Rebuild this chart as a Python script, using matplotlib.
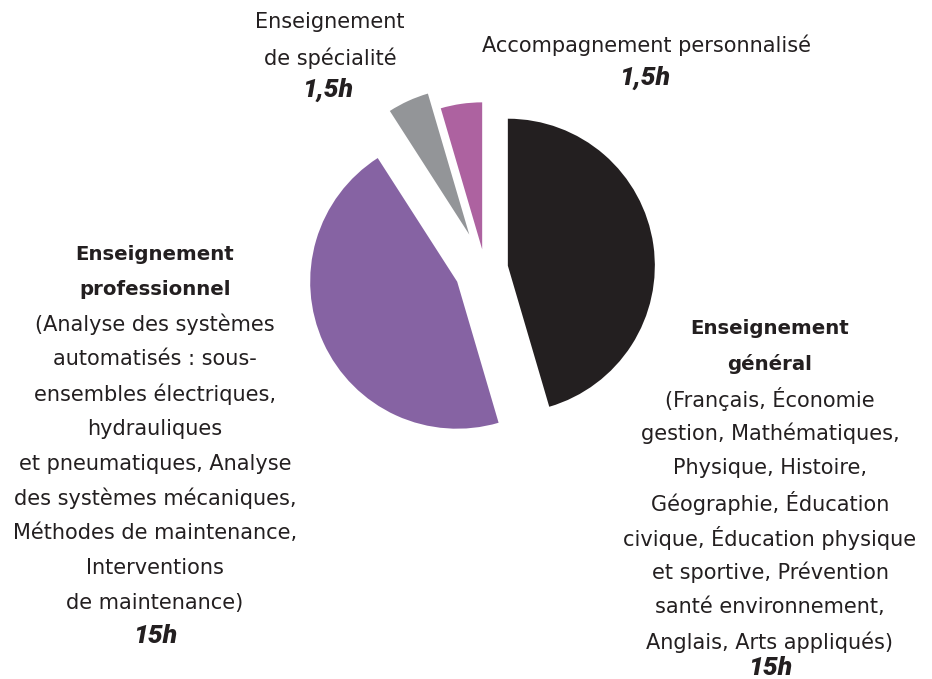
import matplotlib.pyplot as plt

# heures hebdomadaires par enseignement
hours = [15, 15, 1.5, 1.5]
hour_labels = ["15h", "15h", "1,5h", "1,5h"]
colors = ["#231f20", "#8663a3", "#939598", "#ad62a0"]
explode = [0.157, 0.208, 0.257, 0.135]   # fraction du rayon

W, H = 932, 679
R = 147
txt = "#231f20"
plt.rcParams['font.family'] = ['DejaVu Sans']

fig = plt.figure(figsize=(W / 100, H / 100), dpi=100)
ax = fig.add_axes([0, 0, 1, 1])

ax.pie(hours, colors=colors, explode=[e * R for e in explode], startangle=90,
       counterclock=False, center=(485, H - 269), radius=R, frame=True)
ax.set_xlim(0, W)
ax.set_ylim(0, H)
ax.set_aspect('equal')
ax.axis('off')

fs = 15
bfs = 14.2
hkw = dict(ha='center', va='center', fontsize=19, fontweight='heavy', style='italic',
           color=txt, family=['Roboto', 'DejaVu Sans'])

# enseignement de spécialité
ax.text(330, H - 22, "Enseignement", ha='center', va='center', fontsize=fs, color=txt)
ax.text(330, H - 58, "de spécialité", ha='center', va='center', fontsize=fs, color=txt)
ax.text(328, H - 90, hour_labels[2], **hkw)

# accompagnement personnalisé
ax.text(647, H - 45, "Accompagnement personnalisé", ha='center', va='center', fontsize=fs, color=txt)
ax.text(645, H - 78, hour_labels[3], **hkw)

# enseignement professionnel
left_head = ["Enseignement", "professionnel"]
left_body = ["(Analyse des systèmes", "automatisés : sous-", "ensembles électriques,",
             "hydrauliques", "et pneumatiques, Analyse", "des systèmes mécaniques,",
             "Méthodes de maintenance,", "Interventions", "de maintenance)"]
step = 34.8
y0 = 255
for i, line in enumerate(left_head + left_body):
    bold = i < len(left_head)
    ax.text(155, H - (y0 + i * step), line, ha='center', va='center',
            fontsize=bfs if bold else fs, fontweight='bold' if bold else 'normal', color=txt)
ax.text(155, H - 636, hour_labels[1], **hkw)

# enseignement général
right_head = ["Enseignement", "général"]
right_body = ["(Français, Économie", "gestion, Mathématiques,", "Physique, Histoire,",
              "Géographie, Éducation", "civique, Éducation physique",
              "et sportive, Prévention", "santé environnement,", "Anglais, Arts appliqués)"]
y0 = 329
for i, line in enumerate(right_head + right_body):
    bold = i < len(right_head)
    ax.text(770, H - (y0 + i * step), line, ha='center', va='center',
            fontsize=bfs if bold else fs, fontweight='bold' if bold else 'normal', color=txt)
ax.text(770, H - 668, hour_labels[0], **hkw)

fig.savefig("out.png", dpi=100)
